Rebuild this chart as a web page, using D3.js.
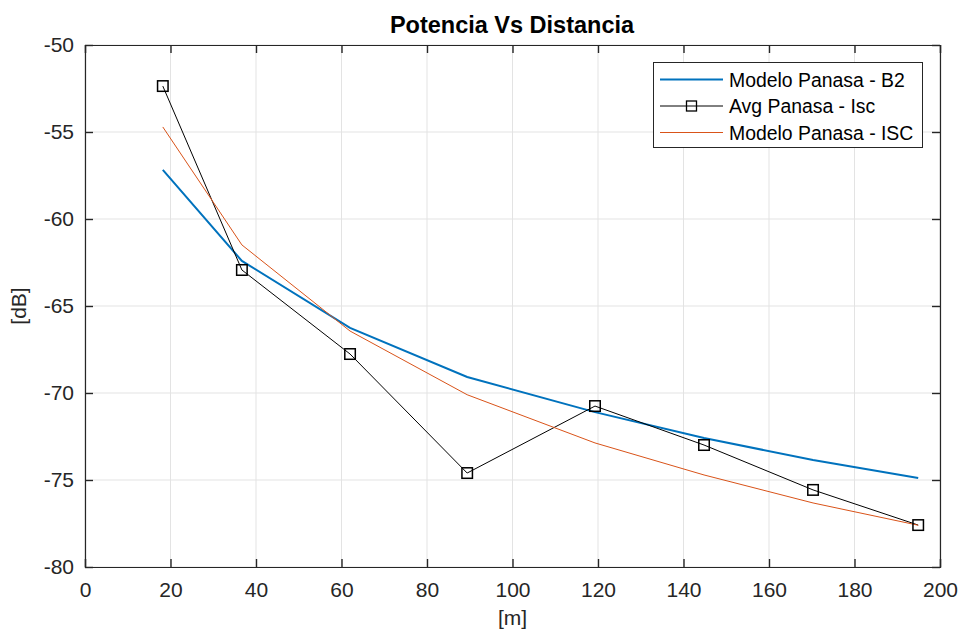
<!DOCTYPE html>
<html><head><meta charset="utf-8">
<script src="https://cdn.jsdelivr.net/npm/d3@7"></script>
<style>body{margin:0;background:#fff}svg{display:block;font-family:"Liberation Sans",Arial,sans-serif}</style>
</head><body><svg id="c" width="958" height="631"></svg>
<script>
const distances = [18.2, 36.7, 62.0, 89.4, 119.3, 144.8, 170.3, 194.9];
const modeloB2 = [-57.18, -62.41, -66.26, -69.08, -71.1, -72.59, -73.85, -74.89];
const avgIsc = [-52.36, -62.93, -67.76, -74.6, -70.75, -72.99, -75.57, -77.59];
const modeloISC = [-54.71, -61.49, -66.44, -70.1, -72.87, -74.71, -76.32, -77.6];
const xTicks = [0,20,40,60,80,100,120,140,160,180,200];
const yTicks = [-80,-75,-70,-65,-60,-55,-50];
const seriesNames = ["Modelo Panasa - B2","Avg Panasa - Isc","Modelo Panasa - ISC"];

const svg = d3.select("#c");
const L=85,R=940,T=45,B=567;
const x = d3.scaleLinear().domain([0,200]).range([L,R]);
const y = d3.scaleLinear().domain([-80,-50]).range([B,T]);
const axisCol="#262626";
const fmt = d => String(d);

// grid
svg.append("g").selectAll("line").data(xTicks).join("line")
 .attr("x1",d=>x(d)).attr("x2",d=>x(d)).attr("y1",T).attr("y2",B)
 .attr("stroke","#e3e3e3").attr("stroke-width",1);
svg.append("g").selectAll("line").data(yTicks).join("line")
 .attr("y1",d=>y(d)).attr("y2",d=>y(d)).attr("x1",L).attr("x2",R)
 .attr("stroke","#e3e3e3").attr("stroke-width",1);

// axes
const ax = svg.append("g").attr("transform",`translate(0,${B})`)
 .call(d3.axisBottom(x).tickValues(xTicks).tickSize(-8).tickPadding(15).tickFormat(fmt));
const axT = svg.append("g").attr("transform",`translate(0,${T})`)
 .call(d3.axisTop(x).tickValues(xTicks).tickSize(-8).tickFormat(""));
const ay = svg.append("g").attr("transform",`translate(${L},0)`)
 .call(d3.axisLeft(y).tickValues(yTicks).tickSize(-8).tickPadding(11).tickFormat(fmt));
const ayR = svg.append("g").attr("transform",`translate(${R},0)`)
 .call(d3.axisRight(y).tickValues(yTicks).tickSize(-8).tickFormat(""));
[ax,axT,ay,ayR].forEach(g=>{
  g.select(".domain").attr("stroke",axisCol).attr("stroke-width",1.2);
  g.selectAll(".tick line").attr("stroke",axisCol).attr("stroke-width",1.4);
  g.selectAll(".tick text").attr("fill",axisCol).attr("font-size",21).attr("font-family","Liberation Sans, Arial, sans-serif");
});
ax.selectAll(".tick text").attr("dy","0.71em");

// lines
const line = d3.line().x((d,i)=>x(distances[i])).y(d=>y(d));
svg.append("path").datum(modeloB2).attr("d",line).attr("fill","none").attr("stroke","#0072BD").attr("stroke-width",2);
svg.append("path").datum(avgIsc).attr("d",line).attr("fill","none").attr("stroke","#000").attr("stroke-width",1);
svg.append("path").datum(modeloISC).attr("d",line).attr("fill","none").attr("stroke","#D95319").attr("stroke-width",1);
const ms=10.5;
svg.append("g").selectAll("rect").data(avgIsc).join("rect")
 .attr("x",(d,i)=>x(distances[i])-ms/2).attr("y",d=>y(d)-ms/2).attr("width",ms).attr("height",ms)
 .attr("fill","none").attr("stroke","#000").attr("stroke-width",1.5);

// title & labels
svg.append("text").attr("x",512).attr("y",33).attr("text-anchor","middle")
 .attr("font-weight","bold").attr("font-size",23.5).attr("fill","#000").text("Potencia Vs Distancia");
svg.append("text").attr("x",(L+R)/2).attr("y",625).attr("text-anchor","middle")
 .attr("font-size",21).attr("fill",axisCol).text("[m]");
svg.append("text").attr("transform",`translate(26,${(T+B)/2}) rotate(-90)`).attr("text-anchor","middle")
 .attr("font-size",21).attr("fill",axisCol).text("[dB]");

// legend
const lg = svg.append("g");
lg.append("rect").attr("x",653.5).attr("y",62.5).attr("width",269).attr("height",85)
 .attr("fill","#fff").attr("stroke","#262626").attr("stroke-width",1);
const cols=["#0072BD","#000","#D95319"], wids=[2,1,1];
seriesNames.forEach((n,i)=>{
  const yy=79.5+i*26.5;
  lg.append("line").attr("x1",660).attr("x2",723).attr("y1",yy).attr("y2",yy).attr("stroke",cols[i]).attr("stroke-width",wids[i]);
  if(i===1) lg.append("rect").attr("x",691.5-5).attr("y",yy-5).attr("width",10).attr("height",10).attr("fill","none").attr("stroke","#000").attr("stroke-width",1.3);
  lg.append("text").attr("x",729).attr("y",yy+7).attr("font-size",19.4).attr("fill","#000").text(n);
});
</script></body></html>
